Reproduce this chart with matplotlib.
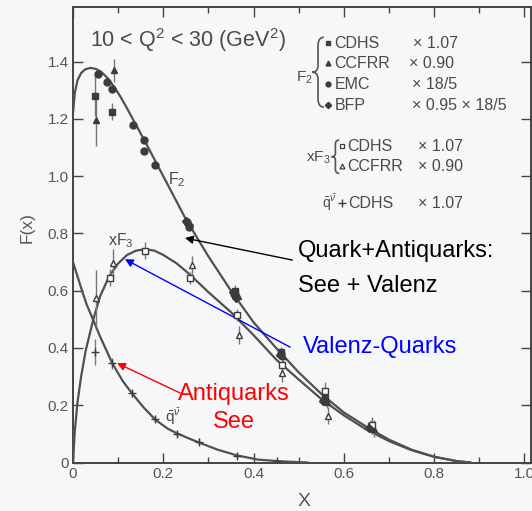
import matplotlib
matplotlib.use('Agg')
import matplotlib.pyplot as plt
from matplotlib.path import Path
from matplotlib.patches import PathPatch

plt.rcParams['font.family'] = ['Liberation Sans', 'DejaVu Sans']
plt.rcParams['mathtext.fontset'] = 'custom'
plt.rcParams['mathtext.rm'] = 'Liberation Sans'
plt.rcParams['mathtext.it'] = 'Liberation Sans:italic'

# fitted curves
f2_x = [0.0, 0.004, 0.01, 0.018, 0.027, 0.038, 0.05, 0.062, 0.075, 0.09, 0.105, 0.12,
        0.14, 0.16, 0.18, 0.2, 0.25, 0.3, 0.35, 0.4, 0.45, 0.5, 0.55, 0.6, 0.65,
        0.7, 0.75, 0.8, 0.85, 0.88]
f2_y = [1.22, 1.29, 1.335, 1.36, 1.373, 1.378, 1.375, 1.365, 1.345, 1.315, 1.278, 1.236,
        1.178, 1.12, 1.06, 1.0, 0.85, 0.72, 0.6, 0.49, 0.4, 0.315, 0.24, 0.175, 0.125,
        0.08, 0.045, 0.02, 0.005, 0.0]

xf3_x = [0.0, 0.004, 0.01, 0.018, 0.028, 0.045, 0.06, 0.08, 0.1, 0.12, 0.14, 0.16,
         0.18, 0.2, 0.23, 0.26, 0.3, 0.35, 0.4, 0.45, 0.5, 0.55, 0.6, 0.65, 0.7,
         0.75, 0.8, 0.85, 0.88]
xf3_y = [0.0, 0.11, 0.21, 0.30, 0.39, 0.50, 0.58, 0.65, 0.695, 0.725, 0.74, 0.745,
         0.74, 0.725, 0.695, 0.655, 0.595, 0.525, 0.445, 0.36, 0.29, 0.222, 0.165, 0.115, 0.075,
         0.043, 0.02, 0.005, 0.0]

qbar_x = [0.0, 0.01, 0.02, 0.03, 0.045, 0.06, 0.087, 0.11, 0.13, 0.155, 0.182, 0.21,
          0.233, 0.26, 0.282, 0.32, 0.363, 0.41, 0.463, 0.52]
qbar_y = [0.70, 0.65, 0.60, 0.553, 0.497, 0.44, 0.347, 0.285, 0.243, 0.195, 0.15, 0.118,
          0.10, 0.082, 0.068, 0.045, 0.025, 0.01, 0.004, 0.0]

# data points
cdhs_f2_x = [0.048, 0.086, 0.36, 0.462, 0.558, 0.66]
cdhs_f2_y = [1.28, 1.225, 0.60, 0.385, 0.225, 0.128]
cdhs_f2_e = [0.07, 0.03, 0.02, 0.02, 0.02, 0.02]

ccfrr_f2_x = [0.052, 0.09, 0.365, 0.466, 0.562, 0.668]
ccfrr_f2_y = [1.195, 1.37, 0.58, 0.372, 0.212, 0.118]
ccfrr_f2_e = [0.09, 0.04, 0.02, 0.02, 0.02, 0.03]

emc_x = [0.056, 0.075, 0.086, 0.132, 0.158, 0.158, 0.182, 0.252, 0.256, 0.356, 0.46, 0.556]
emc_y = [1.358, 1.33, 1.305, 1.178, 1.126, 1.088, 1.038, 0.84, 0.823, 0.59, 0.38, 0.22]

bfp_x = [0.25, 0.258, 0.355, 0.362, 0.458, 0.555, 0.655]
bfp_y = [0.845, 0.83, 0.595, 0.575, 0.375, 0.215, 0.12]

cdhs_xf3_x = [0.082, 0.16, 0.259, 0.363, 0.463, 0.559, 0.662]
cdhs_xf3_y = [0.646, 0.74, 0.645, 0.515, 0.34, 0.25, 0.13]
cdhs_xf3_e = [0.03, 0.03, 0.02, 0.02, 0.02, 0.03, 0.03]

ccfrr_xf3_x = [0.052, 0.089, 0.263, 0.367, 0.463, 0.565]
ccfrr_xf3_y = [0.573, 0.695, 0.69, 0.445, 0.311, 0.163]
ccfrr_xf3_e = [0.1, 0.05, 0.03, 0.03, 0.03, 0.03]

cdhs_q_x = [0.049, 0.086, 0.131, 0.182, 0.23, 0.28, 0.363, 0.452]
cdhs_q_y = [0.387, 0.346, 0.241, 0.151, 0.10, 0.072, 0.022, 0.004]
cdhs_q_e = [0.045, 0.02, 0.012, 0.01, 0.01, 0.012, 0.008, 0.006]

ink = '#3c3c3c'
line = '#505050'
bg = '#f6f7f9'


def brace(ax, xt, xe, y0, y1, color='#555555'):
    # left curly brace, tip at xt, ends at xe
    xm = (xt + xe) / 2
    ym = (y0 + y1) / 2
    h = y1 - y0
    verts = [(xe, y1), (xm, y1), (xm, y1 - 0.12 * h), (xm, ym + 0.1 * h),
             (xm, ym), (xt, ym), (xm, ym), (xm, ym - 0.1 * h),
             (xm, y0 + 0.12 * h), (xm, y0), (xe, y0)]
    codes = [Path.MOVETO, Path.CURVE3, Path.CURVE3, Path.LINETO,
             Path.CURVE3, Path.CURVE3, Path.CURVE3, Path.CURVE3,
             Path.LINETO, Path.CURVE3, Path.CURVE3]
    ax.add_patch(PathPatch(Path(verts, codes), fill=False, ec=color, lw=1.2, clip_on=False))


fig = plt.figure(figsize=(5.32, 5.11), dpi=100, facecolor=bg)
ax = fig.add_axes([0.1372, 0.0949, 0.861, 0.891], facecolor=bg)

ax.plot(f2_x, f2_y, color=line, lw=1.6, zorder=3)
ax.plot(xf3_x, xf3_y, color=line, lw=1.6, zorder=3)
ax.plot(qbar_x, qbar_y, color=line, lw=1.6, zorder=3)

ekw = dict(ecolor='#777777', elinewidth=1.0, capsize=0, ls='none', zorder=4)
ax.errorbar(cdhs_f2_x, cdhs_f2_y, yerr=cdhs_f2_e, fmt='s', ms=5, mfc=ink, mec=ink, **ekw)
ax.errorbar(ccfrr_f2_x, ccfrr_f2_y, yerr=ccfrr_f2_e, fmt='^', ms=5, mfc=ink, mec=ink, **ekw)
ax.plot(emc_x, emc_y, 'o', ms=5, color=ink, ls='none', zorder=5)
ax.plot(bfp_x, bfp_y, 'D', ms=4.5, color=ink, ls='none', zorder=5)
ax.errorbar(cdhs_xf3_x, cdhs_xf3_y, yerr=cdhs_xf3_e, fmt='s', ms=4.5, mfc='white', mec=ink, mew=1.0, **ekw)
ax.errorbar(ccfrr_xf3_x, ccfrr_xf3_y, yerr=ccfrr_xf3_e, fmt='^', ms=4.5, mfc='white', mec=ink, mew=1.0, **ekw)
ax.errorbar(cdhs_q_x, cdhs_q_y, yerr=cdhs_q_e, fmt='+', ms=6, mec=ink, mew=1.0, **ekw)

ax.set_xlim(0, 1.015)
ax.set_ylim(0, 1.59)
ax.set_xticks([0, 0.2, 0.4, 0.6, 0.8, 1.0])
ax.set_xticklabels(['0', '0.2', '0.4', '0.6', '0.8', '1.0'])
ax.set_xticks([0.1, 0.3, 0.5, 0.7, 0.9], minor=True)
ax.set_yticks([0, 0.2, 0.4, 0.6, 0.8, 1.0, 1.2, 1.4])
ax.set_yticklabels(['0', '0.2', '0.4', '0.6', '0.8', '1.0', '1.2', '1.4'])
ax.tick_params(which='both', direction='in', top=True, right=True, colors='#444444',
               labelcolor='#555555', labelsize=11, width=1.0)
ax.tick_params(which='major', length=7, pad=3)
ax.tick_params(which='minor', length=4)
for s in ax.spines.values():
    s.set_color('#444444')
    s.set_linewidth(1.4)

fig.text(27 / 532, 1 - 228 / 511, 'F(x)', rotation=90, ha='center', va='center',
         fontsize=12.5, color='#555555')
fig.text(304 / 532, 1 - 502 / 511, 'X', ha='center', va='center', fontsize=14, color='#555555')

gray = '#4a4a4a'
ax.text(0.037, 1.450, r'10 < Q$^2$ < 30 (GeV$^2$)', fontsize=15.5, color=gray, va='baseline')

# legend block
lfs = 11.5
ax.text(0.512, 1.345, r'F$_2$', fontsize=11, color=gray, ha='center', va='center')
brace(ax, 0.530, 0.556, 1.241, 1.485)
rows = [1.464, 1.394, 1.321, 1.248]
marks = ['s', '^', 'o', 'D']
names = ['CDHS', 'CCFRR', 'EMC', 'BFP']
facts = ['× 1.07', '× 0.90', '× 18/5', '× 0.95 × 18/5']
fx = [0.754, 0.745, 0.752, 0.752]
for r, m, n, f, xx in zip(rows, marks, names, facts, fx):
    ax.plot([0.565], [r], m, ms=3.5 if m != 'D' else 3.2, color=ink, clip_on=False)
    ax.text(0.580, r, n, fontsize=lfs, color=gray, va='center')
    ax.text(xx, r, f, fontsize=lfs, color=gray, va='center')

ax.text(0.543, 1.063, r'xF$_3$', fontsize=11, color=gray, ha='center', va='center')
brace(ax, 0.573, 0.590, 1.010, 1.126)
for r, m, n, f in zip([1.105, 1.035], ['s', '^'], ['CDHS', 'CCFRR'], ['× 1.07', '× 0.90']):
    ax.plot([0.597], [r], m, ms=3.5, mfc='white', mec=ink, mew=0.9, clip_on=False)
    ax.text(0.608, r, n, fontsize=lfs, color=gray, va='center')
    ax.text(0.765, r, f, fontsize=lfs, color=gray, va='center')

ax.text(0.567, 0.906, r'$\bar{\mathrm{q}}^{\bar{\nu}}$', fontsize=10, color=gray, ha='center', va='center')
ax.plot([0.596], [0.905], '+', ms=6, mec=ink, mew=1.0, clip_on=False)
ax.text(0.610, 0.905, 'CDHS', fontsize=lfs, color=gray, va='center')
ax.text(0.765, 0.905, '× 1.07', fontsize=lfs, color=gray, va='center')

# curve labels
ax.text(0.211, 0.972, r'F$_2$', fontsize=11.5, color=gray, va='baseline')
ax.text(0.078, 0.759, r'xF$_3$', fontsize=11.5, color=gray, va='baseline')
ax.text(0.204, 0.141, r'$\bar{\mathrm{q}}^{\bar{\nu}}$', fontsize=11, color=gray, va='baseline')

# annotations
ax.annotate('', xy=(0.248, 0.784), xytext=(0.486, 0.707),
            arrowprops=dict(arrowstyle='-|>', color='black', lw=1.0, mutation_scale=12,
                            shrinkA=0, shrinkB=0))
ax.annotate('', xy=(0.115, 0.710), xytext=(0.481, 0.403),
            arrowprops=dict(arrowstyle='-|>', color='#0000ff', lw=1.0, mutation_scale=12,
                            shrinkA=0, shrinkB=0))
ax.annotate('', xy=(0.0976, 0.347), xytext=(0.237, 0.243),
            arrowprops=dict(arrowstyle='-|>', color='#ff0000', lw=1.0, mutation_scale=12,
                            shrinkA=0, shrinkB=0))

ax.text(0.499, 0.717, 'Quark+Antiquarks:', fontsize=17, color='black', va='baseline')
ax.text(0.499, 0.595, 'See + Valenz', fontsize=17, color='black', va='baseline')
ax.text(0.510, 0.382, 'Valenz-Quarks', fontsize=17, color='#0000ff', va='baseline')
ax.text(0.357, 0.218, 'Antiquarks', fontsize=17, color='#ff0000', va='baseline', ha='center')
ax.text(0.357, 0.120, 'See', fontsize=17, color='#ff0000', va='baseline', ha='center')

fig.savefig('out.png', dpi=100, facecolor=bg)
